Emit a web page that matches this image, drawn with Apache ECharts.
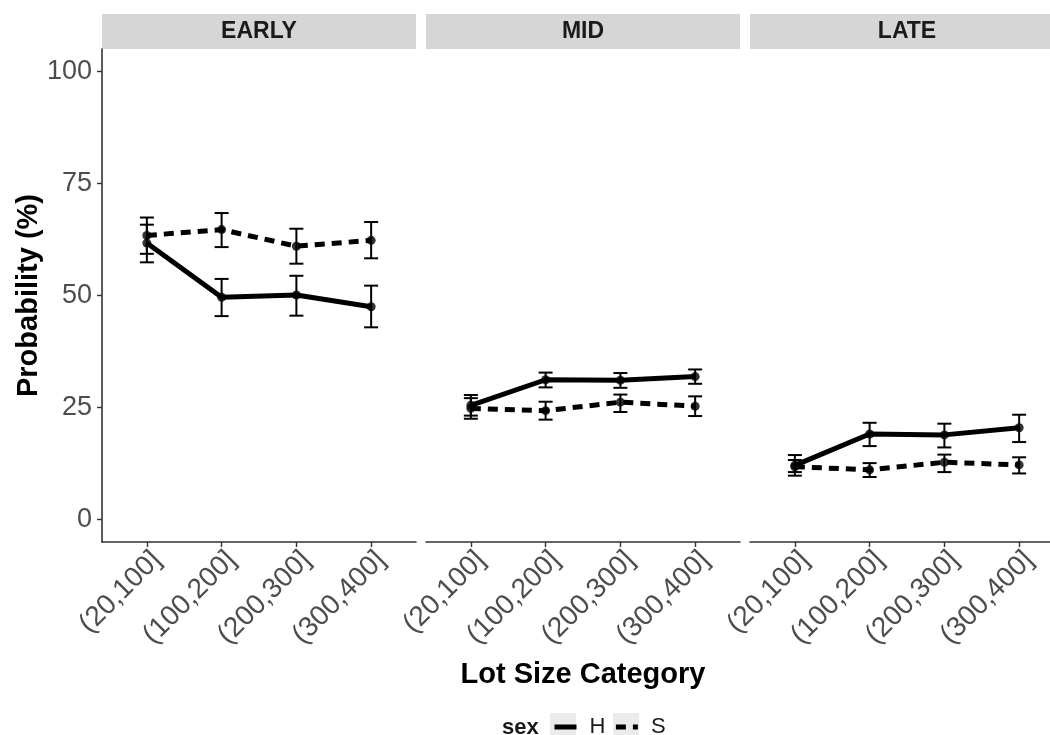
<!DOCTYPE html>
<html><head><meta charset="utf-8">
<script src="https://cdn.jsdelivr.net/npm/echarts@6/dist/echarts.min.js"></script>
<style>html,body{margin:0;padding:0;background:#fff}#c{width:1050px;height:735px}</style>
</head><body><div id="c"></div>
<script>
const categories = ['(20,100]', '(100,200]', '(200,300]', '(300,400]'];
const panels = ['EARLY', 'MID', 'LATE'];
const yTicks = [0, 25, 50, 75, 100];
const seriesNames = ['H', 'S'];

const earlyH = [61.7, 49.6, 50.1, 47.5];
const earlyHLow = [57.4, 45.4, 45.5, 42.9];
const earlyHHigh = [65.8, 53.7, 54.4, 52.2];
const earlyS = [63.4, 64.7, 61.0, 62.3];
const earlySLow = [59.3, 60.8, 57.1, 58.3];
const earlySHigh = [67.4, 68.4, 64.9, 66.4];

const midH = [25.5, 31.2, 31.1, 31.9];
const midHLow = [23.2, 29.5, 29.4, 30.3];
const midHHigh = [27.8, 32.8, 32.7, 33.5];
const midS = [24.8, 24.3, 26.2, 25.3];
const midSLow = [22.5, 22.3, 24.0, 23.1];
const midSHigh = [27.1, 26.3, 27.9, 27.5];

const lateH = [12.1, 19.1, 18.9, 20.5];
const lateHLow = [9.8, 16.4, 16.1, 17.3];
const lateHHigh = [14.4, 21.6, 21.4, 23.4];
const lateS = [11.8, 11.1, 12.8, 12.2];
const lateSLow = [10.6, 9.5, 10.6, 10.3];
const lateSHigh = [13.3, 12.6, 14.5, 13.9];

const meanH = [earlyH, midH, lateH];
const lowH = [earlyHLow, midHLow, lateHLow];
const highH = [earlyHHigh, midHHigh, lateHHigh];
const meanS = [earlyS, midS, lateS];
const lowS = [earlySLow, midSLow, lateSLow];
const highS = [earlySHigh, midSHigh, lateSHigh];

const FONT = '"Liberation Sans", Arial, Helvetica, sans-serif';
const gridLeft = [102, 426, 750];
const gridW = 314, gridTop = 49, gridH = 493;
const catIdx = categories.map((c, i) => i);

function errRender(params, api) {
  const x = api.value(0);
  const lo = api.coord([x, api.value(1)]);
  const hi = api.coord([x, api.value(2)]);
  const w = 7;
  const st = { stroke: '#000', lineWidth: 2 };
  return {
    type: 'group',
    children: [
      { type: 'line', shape: { x1: lo[0], y1: lo[1], x2: hi[0], y2: hi[1] }, style: st },
      { type: 'line', shape: { x1: lo[0] - w, y1: lo[1], x2: lo[0] + w, y2: lo[1] }, style: st },
      { type: 'line', shape: { x1: hi[0] - w, y1: hi[1], x2: hi[0] + w, y2: hi[1] }, style: st }
    ]
  };
}

const grids = [], xAxes = [], yAxes = [], series = [], graphics = [];
panels.forEach((p, k) => {
  grids.push({ left: gridLeft[k], top: gridTop, width: gridW, height: gridH, containLabel: false, outerBoundsMode: 'none' });
  xAxes.push({
    type: 'value', gridIndex: k, min: -0.6, max: 3.6,
    name: k === 1 ? 'Lot Size Category' : '',
    nameLocation: 'middle', nameGap: 118,
    nameTextStyle: { fontFamily: FONT, fontSize: 29, fontWeight: 'bold', color: '#000' },
    splitLine: { show: false },
    axisLine: { show: true, onZero: false, lineStyle: { color: '#333', width: 1.6 } },
    axisTick: { show: true, length: 5, customValues: catIdx, lineStyle: { color: '#333', width: 1.4 } },
    axisLabel: {
      customValues: catIdx, rotate: 45, margin: 4, verticalAlign: 'top',
      fontFamily: FONT, fontSize: 28, color: '#4d4d4d',
      formatter: v => categories[Math.round(v)]
    }
  });
  yAxes.push({
    type: 'value', gridIndex: k, min: -5, max: 105,
    name: k === 0 ? 'Probability (%)' : '',
    nameLocation: 'middle', nameGap: 58, nameRotate: 90,
    nameTextStyle: { fontFamily: FONT, fontSize: 29, fontWeight: 'bold', color: '#000' },
    splitLine: { show: false },
    axisLine: { show: k === 0, onZero: false, lineStyle: { color: '#333', width: 1.6 } },
    axisTick: { show: k === 0, length: 5, customValues: yTicks, lineStyle: { color: '#333', width: 1.4 } },
    axisLabel: { show: k === 0, customValues: yTicks, margin: 10, fontFamily: FONT, fontSize: 27, color: '#4d4d4d' }
  });
  const sets = [
    { name: 'H', mean: meanH[k], lo: lowH[k], hi: highH[k], type: 'solid' },
    { name: 'S', mean: meanS[k], lo: lowS[k], hi: highS[k], type: [10, 7] }
  ];
  sets.forEach(s => {
    series.push({
      type: 'custom', name: s.name + ' error', xAxisIndex: k, yAxisIndex: k,
      renderItem: errRender, z: 3,
      data: catIdx.map(i => [i, s.lo[i], s.hi[i]])
    });
    series.push({
      type: 'line', name: s.name, xAxisIndex: k, yAxisIndex: k,
      symbol: 'none', z: 4,
      lineStyle: { color: '#000', width: 5, type: s.type },
      itemStyle: { color: '#000' },
      data: catIdx.map(i => [i, s.mean[i]])
    });
    series.push({
      type: 'scatter', name: s.name + ' points', xAxisIndex: k, yAxisIndex: k,
      symbol: 'circle', symbolSize: 9, z: 5,
      itemStyle: { color: '#000' },
      data: catIdx.map(i => [i, s.mean[i]])
    });
  });
  graphics.push({
    type: 'rect', z: 0, shape: { x: gridLeft[k], y: 14, width: gridW, height: 35 },
    style: { fill: '#d6d6d6' }
  });
  graphics.push({
    type: 'text', z: 1, x: gridLeft[k] + gridW / 2, y: 32,
    style: { text: p, fontFamily: FONT, fontSize: 23, fontWeight: 'bold', fill: '#1a1a1a', align: 'center', verticalAlign: 'middle' }
  });
});

graphics.push({ type: 'text', z: 1, x: 502, y: 728,
  style: { text: 'sex', fontFamily: FONT, fontSize: 22, fontWeight: 'bold', fill: '#1a1a1a', align: 'left', verticalAlign: 'middle' } });
graphics.push({ type: 'rect', z: 0, shape: { x: 550, y: 713, width: 26, height: 26 }, style: { fill: '#ebebeb' } });
graphics.push({ type: 'rect', z: 0, shape: { x: 613, y: 713, width: 26, height: 26 }, style: { fill: '#ebebeb' } });

const chart = echarts.init(document.getElementById('c'), null, { renderer: 'canvas' });
chart.setOption({
  animation: false,
  backgroundColor: '#fff',
  grid: grids,
  xAxis: xAxes,
  yAxis: yAxes,
  legend: {
    data: seriesNames, left: 552, top: 716, itemWidth: 22, itemHeight: 14, itemGap: 8, padding: 0,
    itemStyle: { opacity: 0 },
    lineStyle: { width: 5 },
    textStyle: { fontFamily: FONT, fontSize: 22, color: '#1a1a1a', padding: [0, 0, 0, 8] },
    selectedMode: false
  },
  graphic: graphics,
  series: series
});
</script>
</body></html>
